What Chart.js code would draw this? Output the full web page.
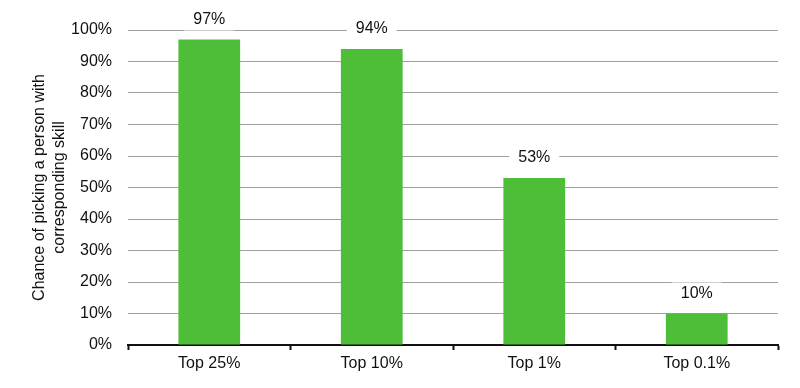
<!DOCTYPE html>
<html>
<head>
<meta charset="utf-8">
<script src="https://cdn.jsdelivr.net/npm/chart.js@4.4.1/dist/chart.umd.min.js"></script>
<style>
  html, body { margin: 0; padding: 0; background: #fff; }
  #wrap { width: 800px; height: 388px; position: relative; }
</style>
</head>
<body>
<div id="wrap"><canvas id="chart"></canvas></div>
<script>
const categories = ["Top 25%", "Top 10%", "Top 1%", "Top 0.1%"];
const chances = [97, 94, 53, 10];
const yTicks = [0, 10, 20, 30, 40, 50, 60, 70, 80, 90, 100];

const FONT = "'Liberation Sans', Arial, Helvetica, sans-serif";

// value labels above each bar, on a white box that hides the gridline
const barLabels = {
  id: "barLabels",
  afterDatasetsDraw(chart) {
    const ctx = chart.ctx;
    const meta = chart.getDatasetMeta(0);
    ctx.save();
    ctx.font = "16px " + FONT;
    ctx.textAlign = "center";
    ctx.textBaseline = "middle";
    meta.data.forEach((bar, i) => {
      const y = bar.y - 20;
      ctx.fillStyle = "#fff";
      ctx.fillRect(bar.x - 25, y - 11, 50, 22);
      ctx.fillStyle = "#111";
      ctx.fillText(chances[i] + "%", bar.x, y);
    });
    ctx.restore();
  },
};

new Chart(document.getElementById("chart"), {
  type: "bar",
  data: {
    labels: categories,
    datasets: [{
      data: chances,
      backgroundColor: "#4ebe38",
      borderWidth: 0,
      barPercentage: 0.76,
      categoryPercentage: 0.5,
    }],
  },
  options: {
    responsive: true,
    maintainAspectRatio: false,
    animation: false,
    layout: { padding: { top: 30, right: 22, left: 28, bottom: 0 } },
    plugins: { legend: { display: false }, tooltip: { enabled: false } },
    scales: {
      x: {
        afterFit: (scale) => { scale.height = 43; },
        grid: {
          drawOnChartArea: false,
          drawTicks: true,
          tickLength: 5,
          tickColor: "#111",
          tickWidth: 2,
        },
        border: { color: "#111", width: 2 },
        ticks: { color: "#111", font: { size: 16, family: FONT }, padding: 4 },
      },
      y: {
        min: 0,
        max: 100,
        afterFit: (scale) => { scale.width = 100; },
        afterBuildTicks: (scale) => { scale.ticks = yTicks.map((v) => ({ value: v })); },
        grid: { color: "#a0a0a0", lineWidth: 1, drawTicks: false },
        border: { display: false },
        ticks: {
          color: "#111",
          padding: 16,
          font: { size: 16, family: FONT },
          callback: (v) => v + "%",
        },
        title: {
          display: true,
          text: ["Chance of picking a person with", "corresponding skill"],
          color: "#111",
          font: { size: 16, family: FONT, lineHeight: 1.25 },
          padding: { top: 2, bottom: 0 },
        },
      },
    },
  },
  plugins: [barLabels],
});
</script>
</body>
</html>
